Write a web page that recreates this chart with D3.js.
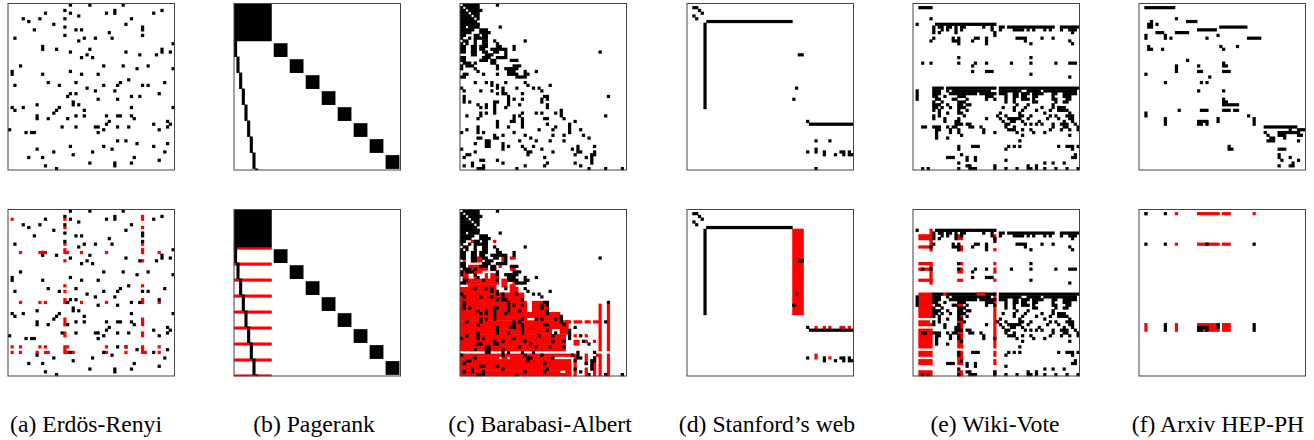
<!DOCTYPE html>
<html>
<head>
<meta charset="utf-8">
<script src="https://cdn.jsdelivr.net/npm/d3@7"></script>
<style>
  body { margin: 0; background: #fff; }
  svg { display: block; }
  text { font-family: "Liberation Serif", serif; font-size: 23.7px; fill: #000; }
</style>
</head>
<body>
<svg id="chart" width="1314" height="440"></svg>
<script>
// every run is [column, row, width, height] in matrix cells, width and height default to 1
const labels = ['(a) Erdös-Renyi', '(b) Pagerank', '(c) Barabasi-Albert', '(d) Stanford’s web', '(e) Wiki-Vote', '(f) Arxiv HEP-PH'];

const erdosBlack = [[22,0],[29,0],[41,0],[20,2],[22,3],[13,3],[35,3],[38,2,1,2],[52,3],[55,2],[25,4],[5,5],[7,6],[11,5],[20,5],[44,5],[16,7],[42,7],[20,8],[48,8,1,2],[9,9],[24,9],[26,9],[36,10],[20,11],[48,11],[2,12],[27,12],[31,12],[37,12],[25,13],[59,14],[12,15,1,2],[17,16],[29,16],[22,17],[42,17],[55,16,1,2],[58,17],[47,18],[53,18],[28,18],[26,19],[30,19],[4,22],[34,22],[41,22],[46,23],[50,22],[59,23],[1,24,1,2],[22,24],[12,25],[26,25],[32,25],[43,27],[14,28],[24,28],[40,28],[56,28],[2,29],[18,29],[34,29],[39,29],[48,29],[50,29],[28,30],[31,31],[38,31],[22,32],[24,32],[54,32],[21,33],[44,33],[47,33],[32,34],[39,34],[23,35,1,2],[25,36],[10,36],[1,37],[5,37],[18,37],[44,37],[59,37],[2,38],[17,38],[27,38],[16,39],[10,40,1,2],[24,40],[27,40],[35,40],[39,40,2],[44,40],[14,41],[21,41],[45,41],[36,42],[57,42],[35,43],[52,43],[58,43],[19,44],[24,44],[31,44,2],[39,44],[43,44],[57,44],[0,45],[34,45],[54,45],[6,46],[8,46,2],[32,46],[39,49],[42,49],[46,50],[57,50],[22,51],[34,51],[52,51],[10,52],[37,52],[16,53],[30,53],[56,53],[23,54],[7,55],[12,55],[45,55],[54,56],[29,57],[38,57,1,2],[44,57],[13,58],[17,59]];
const erdosRed = [[1,3],[20,3],[48,2,1,2],[20,6],[48,6],[20,12],[48,12],[4,15],[11,15],[13,15],[20,14,1,2],[21,15],[26,15],[35,15],[48,14,1,2],[54,15],[20,18],[48,18],[20,27],[48,27],[20,29],[4,33],[11,33],[13,33],[20,32,1,2],[26,33],[35,33],[48,32,1,2],[54,33],[20,39,1,3],[48,39,1,3],[20,44,1,2],[48,44,1,2],[1,49],[4,49],[11,49],[13,49],[20,49,2],[35,49],[48,49],[54,49],[20,50],[48,50],[1,51],[4,51],[10,51],[13,51,2],[20,51,2],[23,51],[35,51],[42,51],[48,51,2],[54,51]];
const erdosRedOver = [[12,15],[42,49]];

// pagerank matrix is a bit finer than the others
const pagerankBlack = [[0,0,14,14],[15,15,5,5],[21,21,5,5],[27,27,5,5],[33,33,5,5],[39,39,5,5],[45,45,5,5],[51,51,5,5],[57,57,5,5],[0,14,1,6],[1,20,1,6],[2,26,1,6],[3,32,1,6],[4,38,1,6],[5,44,1,6],[6,50,1,6],[7,56,1,6],[8,62,1,0.5]];
const pagerankRed = [[0,14,14],[0,20,14],[0,26,14],[0,32,14],[0,38,14],[0,44,14],[0,50,14],[0,56,14],[0,62,14,0.5]];

const barabasiBlack = [[1,0,6],[13,0],[0,1],[2,1,5],[0,2,2],[3,2,5],[0,3,3],[4,3,3],[0,4,4],[5,4,2],[0,5,5],[6,5],[0,6,6],[0,7,7],[0,8,2],[3,8,4],[14,8],[0,9,5],[7,9,3],[0,10,4],[7,10,4],[0,11,2],[5,11,2],[8,11,2],[0,12],[3,12],[5,12,2],[7,12,3],[1,13,2],[5,13],[8,13,2],[12,13],[23,13],[0,14],[2,14],[5,14],[8,14,2],[13,14],[0,15,2],[4,15,2],[7,15,3],[13,15,2],[19,15],[0,16,2],[4,16,2],[7,16,2],[11,16,6],[19,16],[0,17,2],[4,17,2],[8,17,2],[12,17,2],[16,17],[50,17],[4,18,2],[9,18,3],[16,18],[0,19,2],[8,19,3],[13,19,4],[0,20,2],[7,20,3],[11,20,2],[18,20,3],[1,21,3],[5,21],[11,21,2],[0,22],[2,22,3],[13,22],[19,22,3],[0,23],[5,23],[13,23],[16,23,2],[18,23,3],[6,24],[17,24,3],[23,24],[27,24],[1,25,2],[8,25],[13,25],[17,25,4],[23,25],[24,25],[0,26,2],[20,26,4],
  [5,28],[9,28],[11,28,1,2],[16,28],[23,28],[13,29,1,2],[24,29],[32,29],[15,30,1,2],[26,30],[28,30],[0,30],[20,30],[1,31],[7,31],[11,31],[29,31],[13,32],[15,32],[16,32],[22,32],[1,33,1,3],[17,33,1,4],[30,33],[31,33,1,2],[53,33],[19,34],[22,34],[29,34,1,2],[3,35],[12,35,1,5],[13,35],[6,36],[9,36,1,2],[21,36],[31,36,1,2],[7,37],[16,37],[36,38],[7,39,1,2],[9,39],[22,39],[27,39],[29,39],[34,39],[36,39,1,2],[2,40],[19,40,1,3],[21,40],[52,40],[6,41],[22,41,1,4],[30,41,2],[37,41],[13,42,1,3],[18,42],[41,42],[31,43],[39,43,1,4],[17,44],[34,44],[6,44,1,3],[2,45],[28,45],[33,45],[43,45],[0,46],[8,46],[19,46],[12,47,1,2],[15,47],[23,47],[33,47],[37,47],[44,47],[6,48,2],[13,48],[25,48],[46,48],[9,49,2],[21,49],[27,49],[32,49],[37,49],[5,50],[9,50,2,2],[15,50,1,3],[17,51],[22,51],[26,51],[42,51,1,2],[48,51],[0,52],[23,52],[29,52],[40,52],[5,53],[24,53,1,2],[25,53],[33,53],[42,53],[43,53],[48,53,1,2],[2,54,2],[41,54],[47,54],[1,55],[30,55],[45,55],[47,55,1,3],[7,56,2],[13,56],[4,57,1,2],[15,57],[31,57],[41,57],[1,58],[8,58],[23,58],[30,58],[43,58],[6,59,3],[20,59],[46,59],[52,59],[58,59]];
const barabasiRed = [[4,11,3],[12,11],[1,17,1,2],[4,17,4,2],[15,17,1,3],[18,17,2],[3,20,7,2],[14,20],[11,21,2],[18,21,2],[1,22,3],[5,22,3],[13,22],[1,23,2],[5,23],[9,23],[11,23,3],[1,24,2],[5,24],[9,24],[11,24,3],[2,25,12],[15,25,2],[2,26,12],[15,26,2],[19,26,2],[3,27,10],[15,27,2],[18,27,2],[0,28,13,2],[18,28,3,2],[0,30,23,3],[0,33,24,4],[26,33,6,4],[0,37,36,2],[0,39,24],[27,39,10],[0,40,39,3],[0,43,33,2],[36,43,3,2],[0,45,38,6],[0,52,40],[0,53,14],[15,53,2],[18,53,15],[0,54,40,4],[0,58,36],[38,58,2],[0,59,40],
  [38,40,2],[41,40,3],[45,40,2],[48,40,2],[41,45],[45,45],[41,47,2],[45,47],[48,47],[41,48,2],[41,52,1,8],[45,52,1,4],[45,57,1,3],[48,53,1,7],[50,34,1,17],[50,52,1,8],[53,34,1,17],[53,52,1,8],[49,52]];

const stanfordBlack = [[2,1,2],[4,2],[5,3],[2,4],[3,5],[7,6,31],[6,7,1,31],[40,18,2],[39,30],[38,34],[43,42],[44,43,16],[46,49],[51,49],[43,53],[46,52,1,2],[49,53,1,2],[53,54],[55,53,2],[56,54],[58,53,1,2],[59,54],[46,59]];
const stanfordBottomBlack = [[2,1,2],[4,2],[5,3],[2,4],[3,5],[7,6,31],[6,7,1,31],[40,18,2],[39,30],[38,34],[43,42],[44,43,16],[43,53],[49,53,1,2],[53,54],[55,53,2],[56,54],[58,53,1,2],[59,54]];
const stanfordRed = [[38,7,4,31],[46,42],[49,42],[51,42],[55,42,2],[58,42],[46,52,1,2],[51,53]];

const wikiBlack = [[2,1,5],[6,5],[1,7],[8,7,22],[7,8],[9,8,2],[12,8,2],[15,8],[17,8,2],[25,8],[28,8],[31,8,2],[34,8,17],[53,8,7],[7,9],[10,9],[12,9],[15,9],[17,9],[28,9],[31,9],[36,9,4],[41,9],[43,9],[47,9],[49,9],[53,9],[56,9,3],[7,10],[9,10],[15,10],[29,10],[57,10],[29,11],[7,12],[14,12],[16,12],[22,12,2],[26,12],[37,12,4],[46,12],[50,12],[6,13],[14,13,2],[16,13],[21,13],[26,13],[40,13],[56,13],[16,14],[26,14],[42,14],[57,14],[16,19],[42,19],[16,21],[3,21],[6,21],[22,21],[26,21],[35,21],[42,21],[51,21],[56,21,3],[21,22],[21,24],[26,24,3],[42,25],[56,26],
  [7,30,4],[12,30,18],[31,30,29],[1,31,1,4],[7,31,3],[12,31],[14,31,14],[31,31,8],[41,31,5],[47,31,12],[7,32,3],[13,32,10],[24,32,6],[31,32,3],[36,32,2],[39,32,3],[43,32,4],[50,32,2],[54,32,5],[7,33,2],[11,33],[16,33,3],[26,33,3],[33,33],[36,33,2],[39,33,2],[43,33,2],[50,33],[54,33,3],[8,34,2],[14,34,2],[19,34],[26,34],[29,34],[33,34],[36,34],[39,34,3],[43,34],[50,34,2],[55,34,2],[7,35],[10,35],[16,35,3],[33,35],[36,35],[43,35,2],[51,35],[54,35,2],[7,36,3],[12,36],[16,36,2],[19,36,2],[37,36],[41,36],[50,36],[7,37,2],[10,37],[13,37],[16,37,3],[32,37],[36,37],[40,37],[46,37],[50,37],[52,37,3],[7,38],[9,38],[16,38],[19,38],[36,38],[39,38],[44,38],[49,38],[52,38,4],[9,39],[12,39],[16,39,2],[31,39],[38,39],[47,39],[56,39],[7,40],[9,40],[18,40],[30,40],[33,40],[38,40,2],[42,40],[49,40],[51,40],[55,40,3],[7,41],[11,41],[16,41],[26,41],[31,41],[34,41,5],[41,41],[48,41],[52,41],[56,41,2],[11,42],[15,42,2],[32,42],[35,42,2],[39,42],[45,42],[54,42],[57,42],[15,43,3],[19,43,2],[33,43,2],[40,43],[42,43],[44,43],[46,43],[50,43],[53,43,3],[58,43],[3,44,2],[7,44,3],[12,44],[14,44,2],[20,44,2],[24,44],[33,44],[36,44],[50,44],[54,44,2],[59,44],[8,45,2],[13,45],[16,45],[25,45],[34,45,3],[39,45],[42,45],[49,45],[53,45],[56,45],[59,45],[8,46],[13,46],[16,46],[25,46],[29,46],[37,46],[43,46],[47,46],[8,47],[17,47],[39,47],[56,47],[8,48],[12,48],[38,49],
  [16,51],[21,51,3],[34,51],[36,51],[38,51],[52,51],[55,51,3],[59,51],[16,52],[33,52],[57,52],[17,54],[58,54],[12,55,3],[19,55],[22,55,1,2],[57,55,2],[19,56],[33,56],[16,57],[47,57],[50,57],[54,57],[19,58,2],[29,58],[41,58],[44,58],[3,59],[5,59],[16,59],[20,59,3],[29,59],[33,59],[37,59],[41,59,2],[44,59],[47,59],[51,59],[55,59],[59,59]];
const wikiRed = [[6,7,1,8],[2,9,5,2],[2,13,5],[2,19,5],[6,19,1,8],[2,21,5],[2,25,5],[2,30,5,9],[2,40,4],[2,41,5],[2,43,5,7],[2,51,5,2],[2,54,5,2],[2,58,5,2],
  [16,9,2,2],[16,13,2,2],[16,19,2],[16,21,2,2],[16,25,2],[16,34,2,16],[16,51,2,3],[16,54,2,2],[16,58,2,2],
  [29,9,1,2],[29,14],[29,19],[29,21,1,2],[29,25],[29,30,1,20],[29,51,1,2],[29,54,1,2],[29,58,1,2]];
const wikiRedOver = [[11,30],[23,30,3]];

const arxivBlack = [[2,1,11],[13,5],[17,6,4],[4,6],[3,7,2,2],[6,7],[29,8,10],[21,9,7],[6,10,3],[13,10,5],[2,11,1,2],[9,11,1,2],[11,12],[28,11],[24,12],[39,12,5],[3,15],[3,16,2],[8,16],[29,15],[30,16],[35,15],[17,20],[13,22,1,3],[21,22],[30,21,1,2],[31,22],[21,24,2],[30,24,3],[2,25],[25,26],[9,28],[22,28],[24,28],[21,31],[30,31],[30,34,1,3],[31,35],[31,36,5],[14,38],[22,38,3],[30,38,3],[34,38,2],[2,39,1,2],[39,40],[9,41,1,3],[28,41,1,2],[41,41,1,3],[21,42,4],[21,43,2],[24,43],[45,44,12],[54,45],[57,45,3],[45,46],[50,46,8],[46,47],[50,47,3],[57,47,2],[47,48,2],[52,48],[46,49,3],[57,49],[32,51],[32,52,2],[50,52,3],[50,54,1,2],[54,55],[51,56],[57,56],[55,57],[54,58,2],[50,58]];
const arxivBottomBlack = [[2,1],[9,1],[2,12],[9,12],[24,12],[41,12],[9,41,1,3],[28,41,1,2],[41,41,1,3],[21,42,4],[21,43,2],[24,43]];
const arxivRed = [[2,1],[13,1],[21,1,8],[30,1,3],[41,1],[13,12],[21,12,8],[30,12,3],[2,41,1,3],[13,41,1,3],[21,41,8,3],[30,41,3,3]];

// layout
const panelLeft = [8, 234, 460, 687, 913, 1139];
const rowTop = [3.5, 209.5];
const side = 166.5;
const labelCenter = [86, 314, 540, 767, 995, 1218];
const labelY = 432;
// cells bleed a little, the reference is a blurred bitmap and this also hides seams
const bleed = 0.45;

const panels = [
  { top: erdosBlack, bottom: erdosBlack, red: erdosRed, over: erdosRedOver, n: 60 },
  { top: pagerankBlack, bottom: pagerankBlack, red: pagerankRed, over: [], n: 62.5 },
  { top: barabasiBlack, bottom: barabasiBlack, red: barabasiRed, over: [], n: 60 },
  { top: stanfordBlack, bottom: stanfordBottomBlack, red: stanfordRed, over: [], n: 60 },
  { top: wikiBlack, bottom: wikiBlack.filter(d => d[1] >= 7), red: wikiRed, over: wikiRedOver, n: 60 },
  { top: arxivBlack, bottom: arxivBottomBlack, red: arxivRed, over: [], n: 60 }
];

const svg = d3.select('#chart');

function drawRuns(g, runs, scale, color) {
  g.selectAll(null)
    .data(runs)
    .join('rect')
    .attr('x', d => Math.max(0, scale(d[0]) - bleed / 2))
    .attr('y', d => Math.max(0, scale(d[1]) - bleed / 2))
    .attr('width', d => scale(d[0] + (d[2] ?? 1)) - scale(d[0]) + bleed)
    .attr('height', d => scale(d[1] + (d[3] ?? 1)) - scale(d[1]) + bleed)
    .attr('fill', color);
}

function drawMatrix(left, top, panel, black, red, over) {
  const scale = d3.scaleLinear().domain([0, panel.n]).range([0, side]);
  const g = svg.append('g').attr('transform', `translate(${left},${top})`);
  drawRuns(g, red, scale, '#ff0000');
  drawRuns(g, black, scale, '#000');
  drawRuns(g, over, scale, '#ff0000');
  g.append('rect')
    .attr('width', side)
    .attr('height', side)
    .attr('fill', 'none')
    .attr('stroke', '#444')
    .attr('stroke-width', 1);
}

panels.forEach((panel, i) => {
  drawMatrix(panelLeft[i], rowTop[0], panel, panel.top, [], []);
  drawMatrix(panelLeft[i], rowTop[1], panel, panel.bottom, panel.red, panel.over);
});

svg.selectAll('text.label')
  .data(labels)
  .join('text')
  .attr('class', 'label')
  .attr('x', (d, i) => labelCenter[i])
  .attr('y', labelY)
  .attr('text-anchor', 'middle')
  .text(d => d);
</script>
</body>
</html>
